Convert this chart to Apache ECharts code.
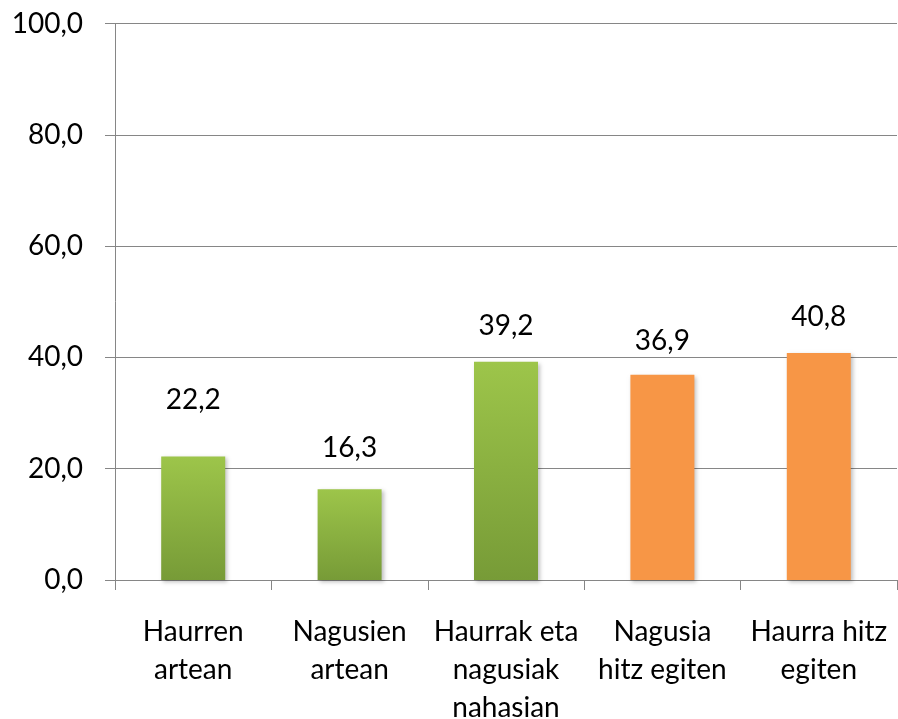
<!DOCTYPE html>
<html>
<head>
<meta charset="utf-8">
<script src="https://cdn.jsdelivr.net/npm/echarts@6/dist/echarts.min.js"></script>
<style>
  html, body { margin: 0; padding: 0; background: #fff; }
  #chart { width: 898px; height: 719px; }
</style>
</head>
<body>
<div id="chart"></div>
<script>
// categories and values
const categories = ['Haurren\nartean', 'Nagusien\nartean', 'Haurrak eta\nnagusiak\nnahasian', 'Nagusia\nhitz egiten', 'Haurra hitz\negiten']
const values = [22.2, 16.3, 39.2, 36.9, 40.8]
const groups = ['green', 'green', 'green', 'orange', 'orange']
const labelGaps = [42, 27, 22, 20, 22]

const font = 'Lato, "Open Sans", sans-serif'

const fills = {
  green: new echarts.graphic.LinearGradient(0, 0, 0, 1, [
    { offset: 0, color: '#9DC54A' },
    { offset: 1, color: '#779B37' }
  ]),
  orange: '#F79646'
}

const chart = echarts.init(document.getElementById('chart'))
chart.setOption({
  animation: false,
  grid: {
    left: 115, right: 1, top: 23.5, bottom: 139,
    containLabel: false, outerBoundsMode: 'none'
  },
  xAxis: {
    type: 'category',
    data: categories,
    axisLine: { lineStyle: { color: '#868686', width: 1 } },
    axisTick: { show: true, length: 10, lineStyle: { color: '#868686' } },
    axisLabel: {
      color: '#000', fontSize: 28, fontFamily: font,
      lineHeight: 38, margin: 33, interval: 0
    }
  },
  yAxis: {
    type: 'value',
    min: 0, max: 100, interval: 20,
    axisLine: { show: true, lineStyle: { color: '#868686', width: 1 } },
    axisTick: { show: true, length: 10, lineStyle: { color: '#868686' } },
    splitLine: { lineStyle: { color: '#868686', width: 1 } },
    axisLabel: {
      color: '#000', fontSize: 28, fontFamily: font, margin: 32,
      formatter: v => v.toFixed(1).replace('.', ',')
    }
  },
  series: [{
    type: 'bar',
    barWidth: 64,
    data: values.map((v, i) => ({
      value: v,
      itemStyle: { color: fills[groups[i]] },
      label: { distance: labelGaps[i] }
    })),
    itemStyle: {
      shadowBlur: 4, shadowOffsetX: 2, shadowOffsetY: 2,
      shadowColor: 'rgba(0,0,0,0.25)'
    },
    label: {
      show: true, position: 'top', color: '#000',
      fontSize: 28, fontFamily: font,
      formatter: p => p.value.toFixed(1).replace('.', ',')
    }
  }]
})
</script>
</body>
</html>
